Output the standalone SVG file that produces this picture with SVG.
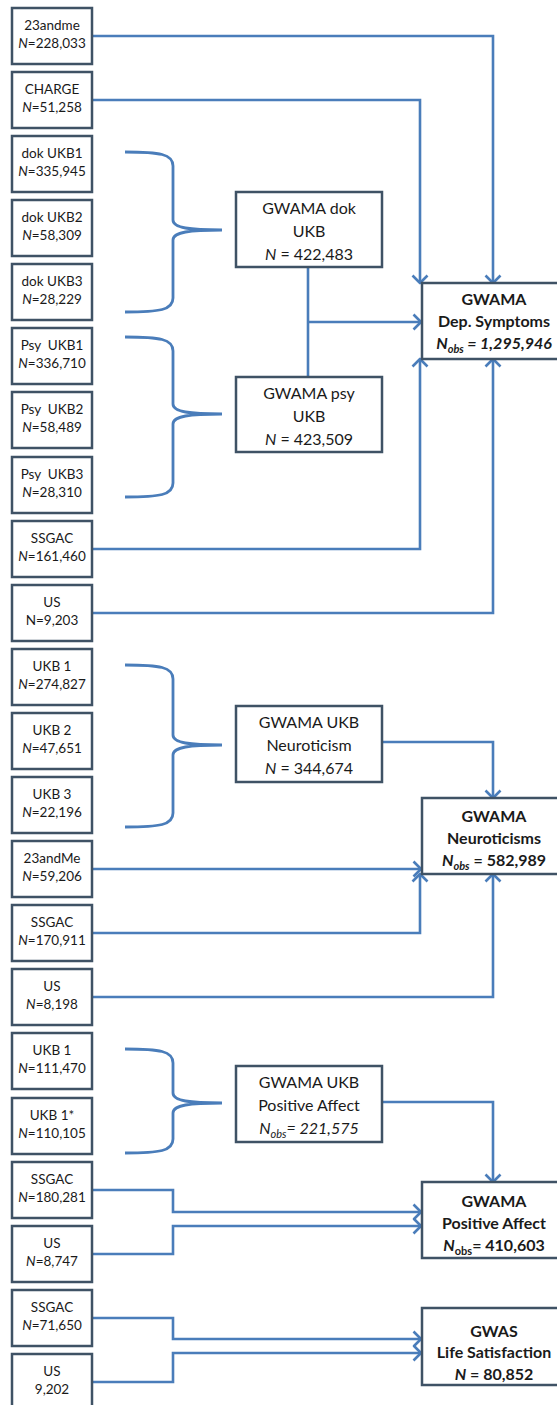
<svg xmlns="http://www.w3.org/2000/svg" width="557" height="1405" viewBox="0 0 557 1405">
<defs>
<style>
.bx{fill:#fff;stroke:#3f5265;stroke-width:2.5}
.ln{fill:none;stroke:#4a7dba;stroke-width:2.6;stroke-linejoin:miter}
.br{fill:none;stroke:#4a7dba;stroke-width:2.8}
.t{font-family:Lato,"Liberation Sans",sans-serif;font-size:13.5px;fill:#1a1a1a;text-anchor:middle}
.m{font-family:Lato,"Liberation Sans",sans-serif;font-size:16px;fill:#1a1a1a;text-anchor:middle}
.r{font-family:Lato,"Liberation Sans",sans-serif;font-size:16px;font-weight:bold;fill:#1a1a1a;text-anchor:middle}
.i{font-style:italic}
.pre{white-space:pre}
</style>
<marker id="ah" viewBox="-10 -10 12 20" refX="0" refY="0" markerWidth="12" markerHeight="20" markerUnits="userSpaceOnUse" orient="auto">
<path d="M-7.5,-7.5 L0,0 L-7.5,7.5" fill="none" stroke="#4a7dba" stroke-width="2.6" stroke-linejoin="round"/>
</marker>
</defs>
<rect width="557" height="1405" fill="#fff"/>

<g id="connectors">
<path class="ln" d="M92,36 H493 V283" marker-end="url(#ah)"/>
<path class="ln" d="M92,100 H420 V283" marker-end="url(#ah)"/>
<path class="ln" d="M308,267 V377"/>
<path class="ln" d="M308,322 H421" marker-end="url(#ah)"/>
<path class="ln" d="M92,549 H420 V359" marker-end="url(#ah)"/>
<path class="ln" d="M92,613 H493 V359" marker-end="url(#ah)"/>
<path class="ln" d="M382,742 H493 V798" marker-end="url(#ah)"/>
<path class="ln" d="M92,869 H421" marker-end="url(#ah)"/>
<path class="ln" d="M92,933 H420 V874" marker-end="url(#ah)"/>
<path class="ln" d="M92,997 H493 V874" marker-end="url(#ah)"/>
<path class="ln" d="M382,1102 H493 V1182" marker-end="url(#ah)"/>
<path class="ln" d="M92,1190 H173 V1212 H421" marker-end="url(#ah)"/>
<path class="ln" d="M92,1254 H173 V1226 H421" marker-end="url(#ah)"/>
<path class="ln" d="M92,1318 H173 V1339 H421" marker-end="url(#ah)"/>
<path class="ln" d="M92,1382 H173 V1353 H421" marker-end="url(#ah)"/>
<path class="br" d="M125,152 C160,152 173,154 173,166 L173,220 C173,228 190,230 222,230 C190,230 173,232 173,240 L173,298 C173,310 160,312 125,312"/>
<path class="br" d="M125,337 C160,337 173,339 173,351 L173,404 C173,412 190,414 222,414 C190,414 173,416 173,424 L173,483 C173,495 160,497 125,497"/>
<path class="br" d="M125,665 C160,665 173,667 173,679 L173,735 C173,743 190,745 222,745 C190,745 173,747 173,755 L173,813 C173,825 160,827 125,827"/>
<path class="br" d="M125,1049 C160,1049 173,1051 173,1063 L173,1093 C173,1101 190,1103 222,1103 C190,1103 173,1105 173,1113 L173,1139 C173,1151 160,1153 125,1153"/>
</g>

<g id="n23andme"><rect class="bx" x="12" y="8" width="80" height="56"/><text class="t" x="52" y="30">23andme</text><text class="t" x="52" y="48"><tspan class="i">N</tspan>=228,033</text></g>
<g id="charge"><rect class="bx" x="12" y="72" width="80" height="56"/><text class="t" x="52" y="94">CHARGE</text><text class="t" x="52" y="112"><tspan class="i">N</tspan>=51,258</text></g>
<g id="dokukb1"><rect class="bx" x="12" y="136" width="80" height="56"/><text class="t" x="52" y="158">dok UKB1</text><text class="t" x="52" y="176"><tspan class="i">N</tspan>=335,945</text></g>
<g id="dokukb2"><rect class="bx" x="12" y="200" width="80" height="56"/><text class="t" x="52" y="222">dok UKB2</text><text class="t" x="52" y="240"><tspan class="i">N</tspan>=58,309</text></g>
<g id="dokukb3"><rect class="bx" x="12" y="264" width="80" height="56"/><text class="t" x="52" y="286">dok UKB3</text><text class="t" x="52" y="304"><tspan class="i">N</tspan>=28,229</text></g>
<g id="psyukb1"><rect class="bx" x="12" y="328" width="80" height="56"/><text class="t pre" x="52" y="350">Psy  UKB1</text><text class="t" x="52" y="368"><tspan class="i">N</tspan>=336,710</text></g>
<g id="psyukb2"><rect class="bx" x="12" y="392" width="80" height="56"/><text class="t pre" x="52" y="414">Psy  UKB2</text><text class="t" x="52" y="432"><tspan class="i">N</tspan>=58,489</text></g>
<g id="psyukb3"><rect class="bx" x="12" y="457" width="80" height="56"/><text class="t pre" x="52" y="479">Psy  UKB3</text><text class="t" x="52" y="497"><tspan class="i">N</tspan>=28,310</text></g>
<g id="ssgac1"><rect class="bx" x="12" y="521" width="80" height="56"/><text class="t" x="52" y="543">SSGAC</text><text class="t" x="52" y="561"><tspan class="i">N</tspan>=161,460</text></g>
<g id="us1"><rect class="bx" x="12" y="585" width="80" height="56"/><text class="t" x="52" y="607">US</text><text class="t" x="52" y="625">N=9,203</text></g>
<g id="nukb1"><rect class="bx" x="12" y="649" width="80" height="56"/><text class="t" x="52" y="671">UKB 1</text><text class="t" x="52" y="689"><tspan class="i">N</tspan>=274,827</text></g>
<g id="nukb2"><rect class="bx" x="12" y="713" width="80" height="56"/><text class="t" x="52" y="735">UKB 2</text><text class="t" x="52" y="753"><tspan class="i">N</tspan>=47,651</text></g>
<g id="nukb3"><rect class="bx" x="12" y="777" width="80" height="56"/><text class="t" x="52" y="799">UKB 3</text><text class="t" x="52" y="817"><tspan class="i">N</tspan>=22,196</text></g>
<g id="n23andme2"><rect class="bx" x="12" y="841" width="80" height="56"/><text class="t" x="52" y="863">23andMe</text><text class="t" x="52" y="881"><tspan class="i">N</tspan>=59,206</text></g>
<g id="ssgac2"><rect class="bx" x="12" y="905" width="80" height="56"/><text class="t" x="52" y="927">SSGAC</text><text class="t" x="52" y="945"><tspan class="i">N</tspan>=170,911</text></g>
<g id="us2"><rect class="bx" x="12" y="969" width="80" height="56"/><text class="t" x="52" y="991">US</text><text class="t" x="52" y="1009"><tspan class="i">N</tspan>=8,198</text></g>
<g id="paukb1"><rect class="bx" x="12" y="1033" width="80" height="56"/><text class="t" x="52" y="1055">UKB 1</text><text class="t" x="52" y="1073"><tspan class="i">N</tspan>=111,470</text></g>
<g id="paukb1s"><rect class="bx" x="12" y="1098" width="80" height="56"/><text class="t" x="52" y="1120">UKB 1*</text><text class="t" x="52" y="1138"><tspan class="i">N</tspan>=110,105</text></g>
<g id="ssgac3"><rect class="bx" x="12" y="1162" width="80" height="56"/><text class="t" x="52" y="1184">SSGAC</text><text class="t" x="52" y="1202"><tspan class="i">N</tspan>=180,281</text></g>
<g id="us3"><rect class="bx" x="12" y="1226" width="80" height="56"/><text class="t" x="52" y="1248">US</text><text class="t" x="52" y="1266"><tspan class="i">N</tspan>=8,747</text></g>
<g id="ssgac4"><rect class="bx" x="12" y="1290" width="80" height="56"/><text class="t" x="52" y="1312">SSGAC</text><text class="t" x="52" y="1330"><tspan class="i">N</tspan>=71,650</text></g>
<g id="us4"><rect class="bx" x="12" y="1354" width="80" height="56"/><text class="t" x="52" y="1376">US</text><text class="t" x="52" y="1394">9,202</text></g>

<g id="gwama_dok"><rect class="bx" x="236" y="192" width="146" height="75"/><text class="m" x="309" y="214">GWAMA dok</text><text class="m" x="309" y="237">UKB</text><text class="m" x="309" y="260"><tspan class="i">N</tspan> = 422,483</text></g>
<g id="gwama_psy"><rect class="bx" x="236" y="377" width="146" height="75"/><text class="m" x="309" y="399">GWAMA psy</text><text class="m" x="309" y="422">UKB</text><text class="m" x="309" y="445"><tspan class="i">N</tspan> = 423,509</text></g>
<g id="gwama_ukb_neuro"><rect class="bx" x="236" y="706" width="146" height="76"/><text class="m" x="309" y="728">GWAMA UKB</text><text class="m" x="309" y="751">Neuroticism</text><text class="m" x="309" y="774"><tspan class="i">N</tspan> = 344,674</text></g>
<g id="gwama_ukb_pa"><rect class="bx" x="236" y="1066" width="146" height="76"/><text class="m" x="309" y="1088">GWAMA UKB</text><text class="m" x="309" y="1111">Positive Affect</text><text class="m i" x="309" y="1134">N<tspan font-size="11" dy="4">obs</tspan><tspan dy="-4">= 221,575</tspan></text></g>

<g id="dep"><rect class="bx" x="422" y="283" width="146" height="76"/><text class="r" x="494" y="305">GWAMA</text><text class="r" x="494" y="327">Dep. Symptoms</text><text class="r i" x="494" y="349">N<tspan font-size="11" dy="4">obs</tspan><tspan dy="-4"> = 1,295,946</tspan></text></g>
<g id="neuro"><rect class="bx" x="422" y="798" width="146" height="76"/><text class="r" x="494" y="822">GWAMA</text><text class="r" x="494" y="844">Neuroticisms</text><text class="r" x="494" y="866"><tspan class="i">N</tspan><tspan class="i" font-size="11" dy="4">obs</tspan><tspan dy="-4"> = 582,989</tspan></text></g>
<g id="pa"><rect class="bx" x="422" y="1182" width="146" height="76"/><text class="r" x="494" y="1207">GWAMA</text><text class="r" x="494" y="1229">Positive Affect</text><text class="r" x="494" y="1251"><tspan class="i">N</tspan><tspan font-size="11" dy="4">obs</tspan><tspan dy="-4">= 410,603</tspan></text></g>
<g id="life"><rect class="bx" x="422" y="1308" width="146" height="77"/><text class="r" x="494" y="1337">GWAS</text><text class="r" x="494" y="1358">Life Satisfaction</text><text class="r" x="494" y="1380"><tspan class="i">N</tspan> = 80,852</text></g>
</svg>
